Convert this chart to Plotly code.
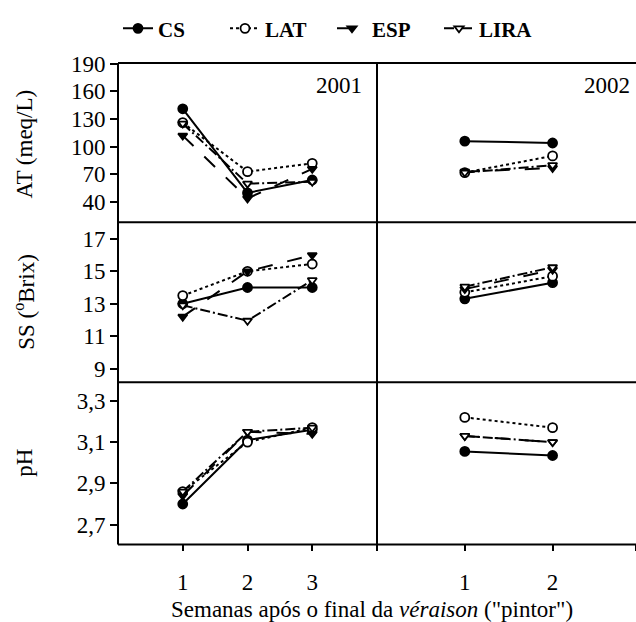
import plotly.graph_objects as go
from plotly.subplots import make_subplots

# ---- data ----
weeks_2001 = [1, 2, 3]
weeks_2002 = [1, 2]
series = ["CS", "LAT", "ESP", "LIRA"]

at_2001 = {"CS": [141, 50, 64], "LAT": [126, 73, 82], "ESP": [112, 44, 76], "LIRA": [125, 60, 62]}
at_2002 = {"CS": [106, 104], "LAT": [72, 90], "ESP": [73, 77], "LIRA": [72, 80]}
ss_2001 = {"CS": [13.0, 14.0, 14.0], "LAT": [13.5, 15.0, 15.45], "ESP": [12.2, 15.0, 16.0], "LIRA": [12.9, 11.95, 14.45]}
ss_2002 = {"CS": [13.3, 14.3], "LAT": [13.7, 14.7], "ESP": [13.9, 15.1], "LIRA": [14.05, 15.25]}
ph_2001 = {"CS": [2.80, 3.11, 3.16], "LAT": [2.86, 3.10, 3.17], "ESP": [2.84, 3.15, 3.14], "LIRA": [2.86, 3.15, 3.17]}
ph_2002 = {"CS": [3.055, 3.035], "LAT": [3.22, 3.17], "ESP": [3.13, 3.10], "LIRA": [3.13, 3.10]}

at_ticks = [40, 70, 100, 130, 160, 190]
ss_ticks = [9, 11, 13, 15, 17]
ph_ticks = [2.7, 2.9, 3.1, 3.3]
ph_ticktext = ["2,7", "2,9", "3,1", "3,3"]

# ---- styles ----
style = {
    "CS": dict(dash="solid", symbol="circle", fill="black", size=9),
    "LAT": dict(dash="dot", symbol="circle", fill="white", size=9),
    "ESP": dict(dash="longdash", symbol="triangle-down", fill="black", size=8),
    "LIRA": dict(dash="10px,3px,2px,3px", symbol="triangle-down", fill="white", size=8),
}
FONT = "Liberation Serif"
FS = 23
W, H = 636, 622

fig = make_subplots(rows=3, cols=2, horizontal_spacing=0, vertical_spacing=0)

panels = [
    (1, 1, weeks_2001, at_2001), (1, 2, weeks_2002, at_2002),
    (2, 1, weeks_2001, ss_2001), (2, 2, weeks_2002, ss_2002),
    (3, 1, weeks_2001, ph_2001), (3, 2, weeks_2002, ph_2002),
]
for r, c, xs, d in panels:
    for s in series:
        st = style[s]
        fig.add_trace(go.Scatter(
            x=xs, y=d[s], mode="lines+markers", name=s, legendgroup=s,
            showlegend=(r == 1 and c == 1),
            line=dict(color="black", width=2, dash=st["dash"]),
            marker=dict(symbol=st["symbol"], size=st["size"], color=st["fill"],
                        line=dict(color="black", width=1.8)),
        ), row=r, col=c)

# domains in pixels
xl0, xdiv, xr1 = 118, 377, 636
yrows = [(53, 215), (215, 378), (378, 543)]
def px_x(v): return v / W
def px_y(v): return 1 - v / H

ranges = [[18.3, 190.5], [8.15, 18.03], [2.604, 3.39]]
ticks = [(at_ticks, [str(t) for t in at_ticks]), (ss_ticks, [str(t) for t in ss_ticks]), (ph_ticks, ph_ticktext)]

for r in range(1, 4):
    y0, y1 = yrows[r - 1]
    for c in range(1, 3):
        idx = (r - 1) * 2 + c
        xa = "xaxis" if idx == 1 else f"xaxis{idx}"
        ya = "yaxis" if idx == 1 else f"yaxis{idx}"
        xdom = [px_x(xl0), px_x(xdiv)] if c == 1 else [px_x(xdiv), 1.0]
        xrange = [0, 4] if c == 1 else [0, 2.95]
        xcfg = dict(domain=xdom, range=xrange, showgrid=False, zeroline=False, showline=False)
        if r == 3:
            if c == 1:
                xcfg.update(tickvals=[1, 2, 3, 4], ticktext=["1", "2", "3", ""])
            else:
                xcfg.update(tickvals=[1, 2, 2.95], ticktext=["1", "2", ""])
            xcfg.update(ticks="outside", ticklen=6, tickwidth=1.5, tickcolor="black",
                        tickfont=dict(family=FONT, size=FS, color="black"),
                        ticklabelstandoff=11)
        else:
            xcfg.update(showticklabels=False, ticks="")
        fig.layout[xa].update(xcfg)
        ycfg = dict(domain=[px_y(y1), px_y(y0)], range=ranges[r - 1], showgrid=False,
                    zeroline=False, showline=False)
        if c == 1:
            ycfg.update(tickvals=ticks[r - 1][0], ticktext=ticks[r - 1][1], ticks="outside",
                        ticklen=7, tickwidth=1.5, tickcolor="black",
                        tickfont=dict(family=FONT, size=FS, color="black"))
        else:
            ycfg.update(showticklabels=False, ticks="")
        fig.layout[ya].update(ycfg)

# frame lines
shapes = []
lw = 2
def hline(y, xa=xl0, xb=xr1):
    shapes.append(dict(type="line", xref="paper", yref="paper", x0=px_x(xa), x1=px_x(xb),
                       y0=px_y(y), y1=px_y(y), line=dict(color="black", width=lw)))
def vline(x, ya=53, yb=543):
    shapes.append(dict(type="line", xref="paper", yref="paper", x0=px_x(x), x1=px_x(x),
                       y0=px_y(ya), y1=px_y(yb), line=dict(color="black", width=lw)))
hline(53); hline(215); hline(378); hline(543)
vline(xl0); vline(xdiv)

def ann(text, x, y, angle=0, size=FS):
    return dict(text=text, x=px_x(x), y=px_y(y), xref="paper", yref="paper", showarrow=False,
                xanchor="center", yanchor="middle", textangle=angle,
                font=dict(family=FONT, size=size, color="black"))

annotations = [
    ann("2001", 339, 76),
    ann("2002", 607, 76),
    ann("AT (meq/L)", 25, 136, -90),
    ann("SS (<sup>o</sup>Brix)", 25, 296, -90),
    ann("pH", 25, 460, -90),
    ann('Semanas após o final da <i>véraison</i> ("pintor")', 372, 609, 0, 23),
]

fig.update_layout(
    width=W, height=H, margin=dict(l=0, r=0, t=0, b=0),
    paper_bgcolor="white", plot_bgcolor="white",
    shapes=shapes, annotations=annotations,
    legend=dict(orientation="h", x=px_x(118), y=px_y(18), xanchor="left", yanchor="middle",
                font=dict(family=FONT, size=21, color="black", weight="bold"),
                itemwidth=30, entrywidth=62, entrywidthmode="pixels",
                bgcolor="rgba(0,0,0,0)", tracegroupgap=0),
)

fig.write_html("out.html")
